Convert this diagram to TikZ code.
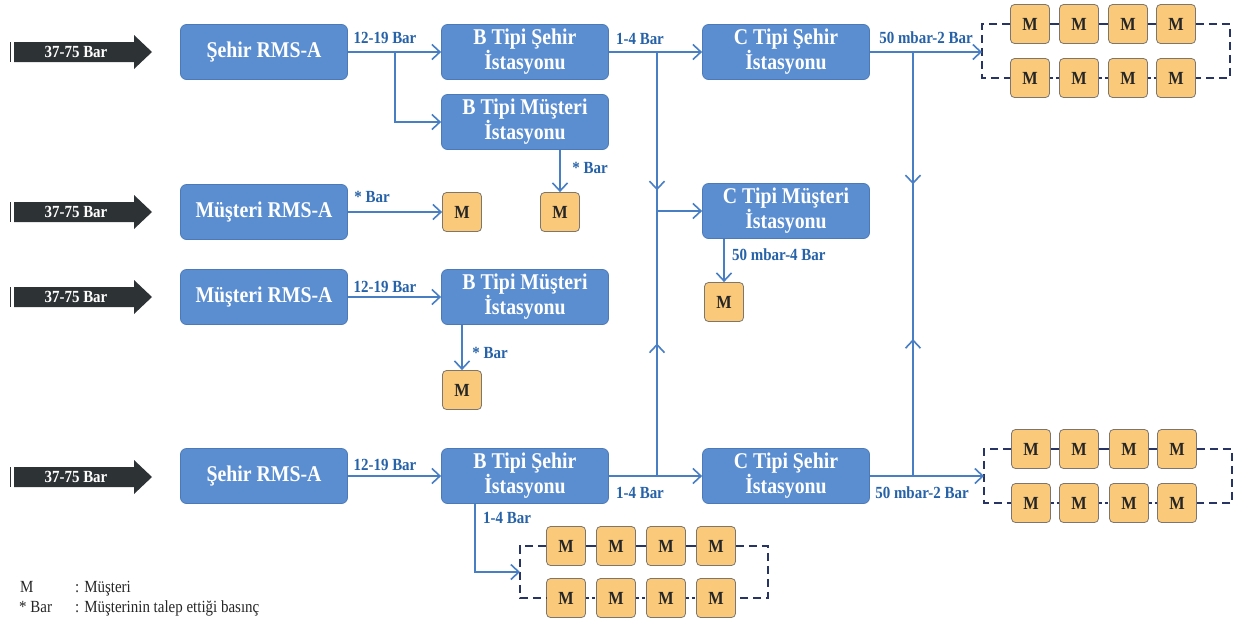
\documentclass[tikz,border=0pt]{standalone}
\usepackage{fontspec}
\setmainfont[FakeStretch=0.88]{Liberation Serif}
\usetikzlibrary{arrows.meta,decorations.markings,calc}
\definecolor{boxblue}{RGB}{90,142,209}
\definecolor{boxedge}{RGB}{76,122,184}
\definecolor{morange}{RGB}{250,201,122}
\definecolor{medge}{RGB}{125,118,110}
\definecolor{lineblue}{RGB}{72,126,196}
\definecolor{labblue}{RGB}{38,98,168}
\definecolor{navy}{RGB}{40,52,100}
\definecolor{darkarr}{RGB}{45,50,52}
\begin{document}
\begin{tikzpicture}[x=1pt,y=-1pt,
  bbox/.style={rectangle, rounded corners=6pt, fill=boxblue, draw=boxedge, line width=0.8pt,
    minimum width=167pt, minimum height=55pt, text=white, align=center, inner sep=0pt,
    font=\bfseries\fontsize{22.5}{24}\selectfont},
  mbox/.style={rectangle, rounded corners=4pt, fill=morange, draw=medge, line width=0.8pt,
    minimum width=39pt, minimum height=39pt, inner sep=0pt, text=black!85,
    font=\bfseries\fontsize{18.5}{18}\selectfont},
  lab/.style={text=labblue, inner sep=0pt, font=\bfseries\fontsize{17}{17}\selectfont},
  arrtext/.style={text=white, inner sep=0pt, font=\bfseries\fontsize{17}{17}\selectfont},
  legtext/.style={text=black!85, inner sep=0pt, anchor=base west, font=\fontsize{17}{17}\selectfont},
  pipe/.style={draw=lineblue, line width=1.9pt},
  arr/.style={pipe, -{Straight Barb[length=8pt,width=15pt,line width=1.6pt]}},
  midarrow/.style={postaction={decorate}, decoration={markings,
    mark=at position #1 with {\arrow{Straight Barb[length=8pt,width=15pt,line width=1.6pt]}}}},
  dashline/.style={draw=navy, line width=2.2pt, dash pattern=on 8pt off 5pt},
  linkline/.style={draw=navy, line width=2pt},
  linkdot/.style={draw=navy, line width=2pt, dash pattern=on 3pt off 3pt}
]
\useasboundingbox (0,0) rectangle (1239,622);
\fill[white] (0,0) rectangle (1239,622);

% incoming dark arrows
\foreach \yy/\nm in {52/in1, 212/in2, 297/in3, 477/in4} {
  \fill[darkarr] (14,{\yy-10}) -- (134,{\yy-10}) -- (134,{\yy-17}) -- (152,\yy)
     -- (134,{\yy+17}) -- (134,{\yy+10}) -- (14,{\yy+10}) -- cycle;
  \draw[darkarr, line width=1.6pt] (10.5,{\yy-10}) -- (10.5,{\yy+10});
  \node[arrtext] (\nm) at (76,\yy) {37-75 Bar};
}

% stations
\node[bbox] (rs1) at (264,52) {Şehir RMS-A};
\node[bbox] (rm2) at (264,212) {Müşteri RMS-A};
\node[bbox] (rm3) at (264,297) {Müşteri RMS-A};
\node[bbox] (rs4) at (264,476) {Şehir RMS-A};
\node[bbox] (bs1) at (525,52) {B Tipi Şehir\\İstasyonu};
\node[bbox] (bm1) at (525,122) {B Tipi Müşteri\\İstasyonu};
\node[bbox] (bm3) at (525,297) {B Tipi Müşteri\\İstasyonu};
\node[bbox] (bs4) at (525,476) {B Tipi Şehir\\İstasyonu};
\node[bbox] (cs1) at (786,52) {C Tipi Şehir\\İstasyonu};
\node[bbox] (cm2) at (786,211) {C Tipi Müşteri\\İstasyonu};
\node[bbox] (cs4) at (786,476) {C Tipi Şehir\\İstasyonu};

% single customers
\node[mbox] (m2a) at (462,212) {M};
\node[mbox] (m2b) at (560,212) {M};
\node[mbox] (m2c) at (724,302) {M};
\node[mbox] (m3) at (462,390) {M};

% customer grids
\foreach \i/\xx in {1/1030,2/1079,3/1128,4/1176} {
  \node[mbox] (ga\i) at (\xx,24) {M};
  \node[mbox] (gb\i) at (\xx,78) {M};
}
\foreach \i/\xx in {1/1031,2/1079,3/1129,4/1177} {
  \node[mbox] (ha\i) at (\xx,449) {M};
  \node[mbox] (hb\i) at (\xx,503) {M};
}
\foreach \i/\xx in {1/566,2/616,3/666,4/716} {
  \node[mbox] (ka\i) at (\xx,546) {M};
  \node[mbox] (kb\i) at (\xx,598) {M};
}

% grid frames
\coordinate (gaL) at (982,24); \coordinate (gbL) at (982,78);
\coordinate (gaR) at (1230,24); \coordinate (gbR) at (1230,78);
\coordinate (g1in) at (982,52);
\draw[dashline] (ga1.west) -- (gaL) -- (gbL) -- (gb1.west);
\draw[dashline] (ga4.east) -- (gaR) -- (gbR) -- (gb4.east);
\coordinate (haL) at (984,449); \coordinate (hbL) at (984,503);
\coordinate (haR) at (1232,449); \coordinate (hbR) at (1232,503);
\coordinate (g2in) at (984,476);
\draw[dashline] (ha1.west) -- (haL) -- (hbL) -- (hb1.west);
\draw[dashline] (ha4.east) -- (haR) -- (hbR) -- (hb4.east);
\coordinate (kaL) at (520,546); \coordinate (kbL) at (520,598);
\coordinate (kaR) at (768,546); \coordinate (kbR) at (768,598);
\coordinate (g3in) at (520,572);
\draw[dashline] (ka1.west) -- (kaL) -- (kbL) -- (kb1.west);
\draw[dashline] (ka4.east) -- (kaR) -- (kbR) -- (kb4.east);
\foreach \p in {g,h,k} {
  \foreach \i/\j in {1/2,2/3,3/4} {
    \draw[linkline] (\p a\i.east) -- (\p a\j.west);
    \draw[linkdot] (\p b\i.east) -- (\p b\j.west);
  }
}

% connectors
\coordinate (j1) at (395,52);
\draw[arr] (rs1.east) -- (bs1.west);
\draw[arr] (j1) |- (bm1.west);
\draw[arr] (bs1.east) -- (cs1.west);
\coordinate (j2) at (657,52);
\coordinate (j3) at (657,211);
\coordinate (j4) at (657,476);
\draw[pipe, midarrow=0.87] (j2) -- (j3);
\draw[pipe, midarrow=0.5] (j4) -- (j3);
\draw[arr] (j3) -- (cm2.west);
\draw[arr] (cs1.east) -- (g1in);
\coordinate (j5) at (913,52);
\coordinate (j6) at (913,262);
\coordinate (j7) at (913,476);
\draw[pipe, midarrow=0.63] (j5) -- (j6);
\draw[pipe, midarrow=0.64] (j7) -- (j6);
\draw[arr] (rm2.east) -- (m2a.west);
\draw[arr] (bm1.south -| m2b) -- (m2b.north);
\draw[arr] (rm3.east) -- (bm3.west);
\draw[arr] (bm3.south -| m3) -- (m3.north);
\draw[arr] (cm2.south -| m2c) -- (m2c.north);
\draw[arr] (rs4.east) -- (bs4.west);
\draw[arr] (bs4.east) -- (cs4.west);
\draw[arr] (cs4.east) -- (g2in);
\coordinate (j8) at (475,503.5);
\draw[arr] (j8) |- (g3in);

% labels
\node[lab] (l1) at (385,38) {12-19 Bar};
\node[lab] (l2) at (640,39) {1-4 Bar};
\node[lab] (l3) at (926,38) {50 mbar-2 Bar};
\node[lab] (l4) at (372,197) {* Bar};
\node[lab] (l5) at (590,168) {* Bar};
\node[lab] (l6) at (385,287) {12-19 Bar};
\node[lab] (l7) at (490,353) {* Bar};
\node[lab, anchor=west] (l8) at (732,255) {50 mbar-4 Bar};
\node[lab] (l9) at (385,465) {12-19 Bar};
\node[lab] (l10) at (640,493) {1-4 Bar};
\node[lab, anchor=west] (l11) at (483,518) {1-4 Bar};
\node[lab] (l12) at (922,493) {50 mbar-2 Bar};

% legend
\node[legtext] (k1) at (20,592) {M};
\node[legtext] (k2) at (75,592) {: Müşteri};
\node[legtext] (k3) at (19,612) {* Bar};
\node[legtext] (k4) at (75,612) {: Müşterinin talep ettiği basınç};
\end{tikzpicture}
\end{document}
